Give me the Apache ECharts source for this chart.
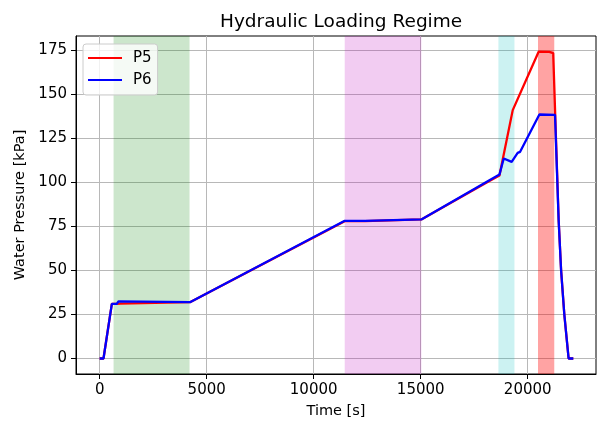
<!DOCTYPE html>
<html>
<head>
<meta charset="utf-8">
<script src="https://cdn.jsdelivr.net/npm/echarts@6/dist/echarts.min.js"></script>
<style>
html,body{margin:0;padding:0;background:#fff;}
#chart{width:598px;height:424px;}
</style>
</head>
<body>
<div id="chart"></div>
<script>
// ---- data ----
const p5Time = [0, 180, 570, 800, 880, 950, 4220, 11450, 12400, 12450, 15030, 18210, 18680, 19300, 20510, 21010, 21190, 21445, 21560, 21710, 21910, 22130];
const p5Vals = [0, 0, 31, 31, 31.5, 31.2, 32, 78, 78, 79, 79, 100.8, 104, 141.1, 174.3, 174.2, 173.5, 78.5, 50, 25, 0, 0];
const p6Time = [0, 180, 570, 800, 880, 950, 4220, 11450, 12400, 12450, 15030, 18210, 18680, 18880, 18960, 19250, 19530, 19645, 20545, 21275, 21445, 21560, 21710, 21910, 22130];
const p6Vals = [0, 0, 31, 31, 32.5, 32, 32, 78.2, 78.2, 79, 79, 101.3, 104.5, 113.6, 114.6, 111.7, 116.8, 117.4, 138.6, 138.4, 78.5, 50, 25, 0, 0];
const spanStart = [650, 11450, 18630, 20480];
const spanEnd = [4200, 15030, 19380, 21240];
const spanColors = ['rgba(0,128,0,0.2)', 'rgba(191,0,191,0.2)', 'rgba(0,191,191,0.2)', 'rgba(255,0,0,0.36)'];
const xTicks = [0, 5000, 10000, 15000, 20000];
const yTicks = [0, 25, 50, 75, 100, 125, 150, 175];

const FONT = 'DejaVu Sans';
const zip = (t, v) => t.map((x, i) => [x, v[i]]);

const chart = echarts.init(document.getElementById('chart'), null, {renderer: 'canvas'});
chart.setOption({
  animation: false,
  backgroundColor: '#fff',
  title: {
    text: 'Hydraulic Loading Regime',
    left: 215, top: 8,
    textStyle: {fontFamily: FONT, fontSize: 18.5, fontWeight: 'normal', color: '#000'}
  },
  legend: {
    orient: 'vertical',
    left: 83, top: 44,
    padding: [6, 6, 7, 5],
    itemGap: 6,
    itemWidth: 34, itemHeight: 2,
    icon: 'rect',
    backgroundColor: 'rgba(255,255,255,0.8)',
    borderColor: '#cccccc', borderWidth: 1, borderRadius: 3,
    textStyle: {fontFamily: FONT, fontSize: 15, color: '#000', lineHeight: 16, padding: [0, 0, 0, 6]},
    data: ['P5', 'P6']
  },
  grid: {left: 76, right: 2, top: 36, bottom: 49, show: true, borderColor: '#000', borderWidth: 1, containLabel: false},
  xAxis: {
    type: 'value', min: -1105, max: 23190,
    name: 'Time [s]', nameLocation: 'middle', nameGap: 30,
    nameTextStyle: {fontFamily: FONT, fontSize: 14.5, color: '#000'},
    axisLine: {show: true, onZero: false, lineStyle: {color: '#000', width: 1}},
    axisTick: {show: true, length: 5, lineStyle: {color: '#000'}, customValues: xTicks},
    axisLabel: {fontFamily: FONT, fontSize: 15, color: '#000', margin: 9, customValues: xTicks, formatter: v => String(v)},
    splitLine: {show: true, lineStyle: {color: '#b8b8b8', width: 1}}
  },
  yAxis: {
    type: 'value', min: -8.8, max: 183.2,
    name: 'Water Pressure [kPa]', nameLocation: 'middle', nameGap: 45,
    nameTextStyle: {fontFamily: FONT, fontSize: 14.5, color: '#000'},
    axisLine: {show: true, onZero: false, lineStyle: {color: '#000', width: 1}},
    axisTick: {show: true, length: 5, lineStyle: {color: '#000'}, customValues: yTicks},
    axisLabel: {fontFamily: FONT, fontSize: 15, color: '#000', margin: 9, customValues: yTicks, formatter: v => String(v)},
    splitLine: {show: true, lineStyle: {color: '#b8b8b8', width: 1}}
  },
  series: [
    {
      name: 'P5', type: 'line', data: zip(p5Time, p5Vals),
      showSymbol: false, symbol: 'none',
      lineStyle: {color: '#ff0000', width: 2.3},
      itemStyle: {color: '#ff0000'},
      markArea: {
        silent: true,
        data: spanStart.map((s, i) => [{xAxis: s, itemStyle: {color: spanColors[i]}}, {xAxis: spanEnd[i]}])
      },
      z: 2
    },
    {
      name: 'P6', type: 'line', data: zip(p6Time, p6Vals),
      showSymbol: false, symbol: 'none',
      lineStyle: {color: '#0000ff', width: 2.3},
      itemStyle: {color: '#0000ff'},
      z: 3
    }
  ]
});
</script>
</body>
</html>
